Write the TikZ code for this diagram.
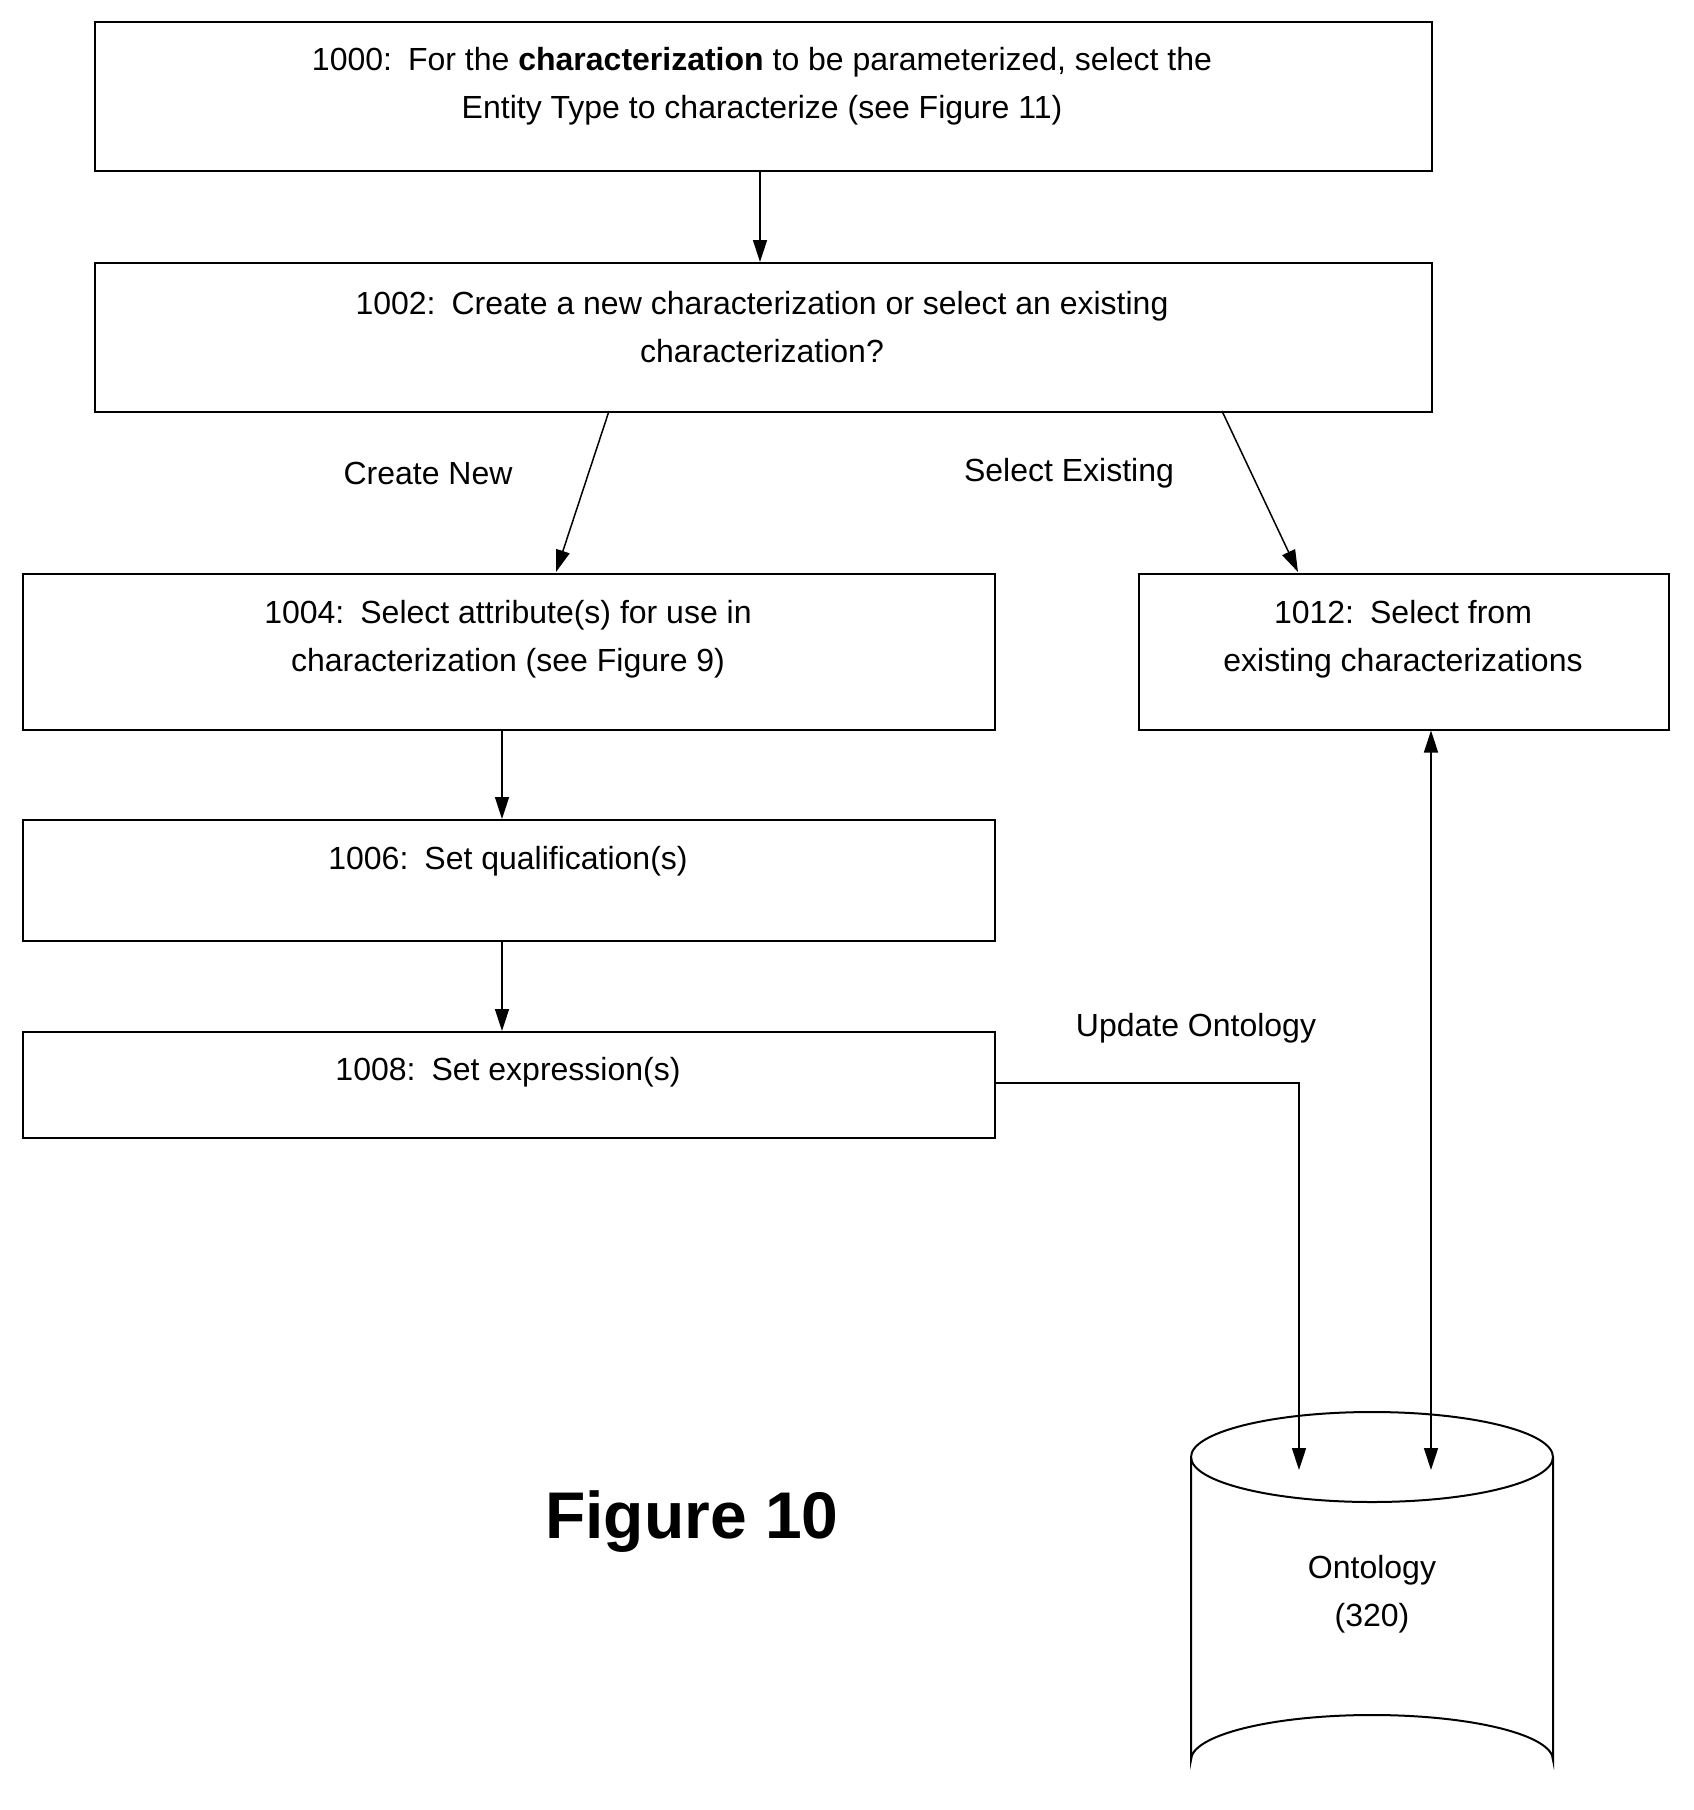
\documentclass[tikz,border=0pt]{standalone}
\usepackage{fontspec}
\setmainfont{Liberation Sans}
\usetikzlibrary{arrows.meta}
\begin{document}
\begin{tikzpicture}[x=1pt,y=-1pt,
  box/.style={draw,line width=1.5pt,anchor=north west,inner sep=0pt},
  txt/.style={font=\fontsize{32}{48}\selectfont,align=center,inner sep=0pt},
  arr/.style={line width=1.5pt,-{Triangle[length=22pt,width=14pt]}},
  darr/.style={line width=1.5pt,{Triangle[length=22pt,width=14pt]}-{Triangle[length=22pt,width=14pt]}}]
\useasboundingbox (0,0) rectangle (1694,1810);
\node[box,minimum width=1337pt,minimum height=149pt] (b1000) at (94,21) {};
\node[txt] (t1000) at (762,86) {1000:\enspace For the \textbf{characterization} to be parameterized, select the\\Entity Type to characterize (see Figure 11)};
\node[box,minimum width=1337pt,minimum height=149pt] (b1002) at (94,262) {};
\node[txt] (t1002) at (762,327) {1002:\enspace Create a new characterization or select an existing\\characterization?};
\node[box,minimum width=972pt,minimum height=156pt] (b1004) at (22,573) {};
\node[txt] (t1004) at (508,639) {1004:\enspace Select attribute(s) for use in\\characterization (see Figure 9)};
\node[box,minimum width=530pt,minimum height=156pt] (b1012) at (1138,573) {};
\node[txt] (t1012) at (1403,639) {1012:\enspace Select from\\existing characterizations};
\node[box,minimum width=972pt,minimum height=121pt] (b1006) at (22,819) {};
\node[txt] (t1006) at (508,861) {1006:\enspace Set qualification(s)};
\node[box,minimum width=972pt,minimum height=106pt] (b1008) at (22,1031) {};
\node[txt] (t1008) at (508,1072) {1008:\enspace Set expression(s)};
\node[txt] (lcn) at (428,473) {Create New};
\node[txt] (lse) at (1069,473) {Select Existing};
\node[txt] (luo) at (1196,1028) {Update Ontology};
\node[font=\fontsize{66}{70}\selectfont\bfseries,inner sep=0pt] (fig) at (692,1522) {Figure 10};
% cylinder
\coordinate (ctop) at (1372,1457);
\draw[line width=2pt] (ctop) ellipse [x radius=181, y radius=45];
\draw[line width=2pt] (1191,1457) -- (1191,1760) arc[start angle=180,end angle=360,x radius=181,y radius=45] -- (1553,1457);
\node[txt] (ont) at (1372,1594) {Ontology\\(320)};
\coordinate (u1) at (1299,1470);
\coordinate (u2) at (1431,1470);
% connectors
\draw[arr] (b1000.south -| 760,0) -- (b1002.north -| 760,0);
\draw[arr] (609,411) -- (556,572);
\draw[arr] (1222,411) -- (1298,572);
\draw[arr] (b1004.south -| 502,0) -- (b1006.north -| 502,0);
\draw[arr] (b1006.south -| 502,0) -- (b1008.north -| 502,0);
\draw[arr] (b1008.east |- 0,1083) -| (u1);
\draw[darr] (b1012.south -| u2) -- (u2);
\end{tikzpicture}
\end{document}
